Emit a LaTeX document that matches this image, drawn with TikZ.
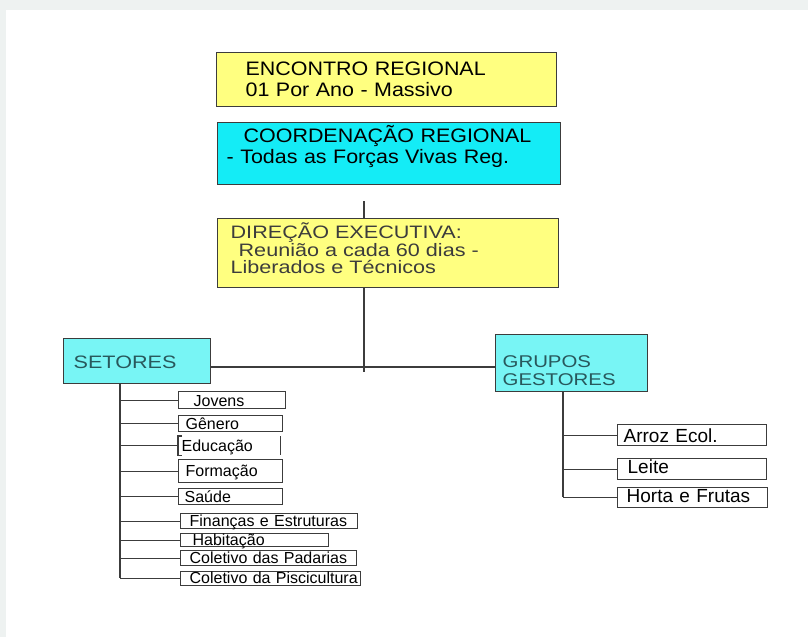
\documentclass[tikz,border=0pt]{standalone}
\usepackage{fontspec}
\setmainfont{Liberation Sans}
\newfontfamily\fbig[FakeStretch=1.1]{Liberation Sans}
\newfontfamily\fwide[FakeStretch=1.2]{Liberation Sans}
\newfontfamily\fsmall{Liberation Sans}
\definecolor{yel}{RGB}{255,255,128}
\definecolor{cyn}{RGB}{20,236,246}
\definecolor{lcyn}{RGB}{120,245,245}
\definecolor{lc}{RGB}{60,60,60}
\definecolor{bgg}{RGB}{238,242,241}
\definecolor{dtxt}{RGB}{60,60,60}
\definecolor{ttxt}{RGB}{40,88,92}
\tikzset{
  bx/.style={draw=lc, line width=1.3pt, anchor=north west, inner sep=0pt, align=left},
  conn/.style={draw=lc, line width=1.3pt},
  bigt/.style={font=\fbig\fontsize{19.5}{20.5}\selectfont},
  midt/.style={font=\fwide\fontsize{18}{17.5}\selectfont, text=dtxt},
  grpt/.style={font=\fwide\fontsize{17}{18}\selectfont, text=ttxt},
  smt/.style={font=\fsmall\fontsize{16}{16}\selectfont},
  rt/.style={font=\fsmall\fontsize{19}{19}\selectfont},
}
\begin{document}
\begin{tikzpicture}[x=1pt,y=-1pt]
\useasboundingbox (0,0) rectangle (808,637);
\fill[bgg] (0,0) rectangle (808,637);
\fill[white] (6,10) rectangle (808,637);

% top boxes
\node[bx, bigt, fill=yel, minimum width=340, minimum height=54, text width=340, text height=23, text depth=31] (enc) at (216,52)
  {\hspace*{29pt}ENCONTRO REGIONAL\\\hspace*{29pt}01 Por Ano - Massivo};
\node[bx, bigt, fill=cyn, minimum width=343, minimum height=62, text width=343, text height=20, text depth=42] (coo) at (217,122)
  {\hspace*{26pt}COORDENAÇÃO REGIONAL\\\hspace*{9pt}- Todas as Forças Vivas Reg.};
\node[bx, midt, fill=yel, minimum width=341, minimum height=69, text width=341, text height=20, text depth=49] (dir) at (217,218)
  {\hspace*{13pt}DIREÇÃO EXECUTIVA:\\\hspace*{21pt}Reunião a cada 60 dias -\\\hspace*{13pt}Liberados e Técnicos};

% second level
\node[bx, grpt, font=\fwide\fontsize{18}{18}\selectfont, fill=lcyn, minimum width=147, minimum height=45, text width=147, text height=30, text depth=15] (set) at (63,338)
  {\hspace*{10pt}SETORES};
\node[bx, grpt, fill=lcyn, minimum width=152, minimum height=57, text width=152, text height=33, text depth=24] (grp) at (495,334)
  {\hspace*{7pt}GRUPOS\\\hspace*{7pt}GESTORES};

% setores children
\node[bx, smt, minimum width=107, minimum height=17, text width=107, text height=15, text depth=2] (jov) at (178,391) {\hspace*{15pt}Jovens};
\node[bx, smt, minimum width=104, minimum height=16, text width=104, text height=14, text depth=2] (gen) at (178,415) {\hspace*{7pt}Gênero};
\node[bx, smt, draw=none, minimum width=101, minimum height=18, text width=101, text height=15, text depth=3] (edu) at (178,436) {\hspace*{3pt}Educação};
\node[bx, smt, minimum width=104, minimum height=23, text width=104, text height=17, text depth=6] (for) at (178,459) {\hspace*{7pt}Formação};
\node[bx, smt, minimum width=104, minimum height=16, text width=104, text height=14, text depth=2] (sau) at (178,488) {\hspace*{6pt}Saúde};
\node[bx, smt, minimum width=177, minimum height=15, text width=177, text height=13, text depth=2] (fin) at (180,513) {\hspace*{9pt}Finanças e Estruturas};
\node[bx, smt, minimum width=148, minimum height=13, text width=148, text height=12, text depth=1] (hab) at (180,533) {\hspace*{12pt}Habitação};
\node[bx, smt, minimum width=176, minimum height=15, text width=176, text height=13, text depth=2] (pad) at (180,550) {\hspace*{9pt}Coletivo das Padarias};
\node[bx, smt, minimum width=180, minimum height=14, text width=180, text height=12, text depth=2] (pis) at (180,571) {\hspace*{9pt}Coletivo da Piscicultura};

% grupos children
\node[bx, rt, minimum width=149, minimum height=21, text width=149, text height=18, text depth=3] (arr) at (617,424) {\hspace*{6pt}Arroz Ecol.};
\node[bx, rt, minimum width=149, minimum height=21, text width=149, text height=15, text depth=6] (lei) at (617,458) {\hspace*{10pt}Leite};
\node[bx, rt, minimum width=150, minimum height=20, text width=150, text height=15, text depth=5] (hor) at (617,487) {\hspace*{9pt}Horta e Frutas};

% Educação box sides
\draw[conn] ([xshift=4pt]edu.north west) -- (edu.north west) -- (edu.south west) -- ([xshift=4pt]edu.south west);
\draw[conn] (edu.north east) -- (edu.south east);

% connectors
\coordinate (t1) at (364,201);
\coordinate (hub) at (364,372);
\coordinate (hy) at (364,367);
\coordinate (sb) at (120,578);
\coordinate (gb) at (563,497);
\draw[conn] (t1) -- (t1 |- dir.north);
\draw[conn] (dir.south -| hub) -- (hub);
\draw[conn] (set.east |- hy) -- (grp.west |- hy);
\draw[conn] (set.south -| sb) -- (sb);
\foreach \n in {jov,gen,edu,for,sau,fin,hab,pad,pis}
  \draw[conn] (sb |- \n.west) -- (\n.west);
\draw[conn] (grp.south -| gb) -- (gb);
\foreach \n in {arr,lei,hor}
  \draw[conn] (gb |- \n.west) -- (\n.west);
\end{tikzpicture}
\end{document}
